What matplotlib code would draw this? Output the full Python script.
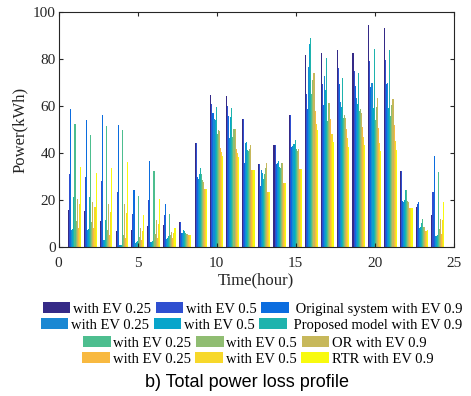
#! /usr/bin/env python3

import numpy as np
import matplotlib
matplotlib.use('Agg')
import matplotlib.pyplot as plt
from matplotlib.patches import Patch

hours = list(range(1, 25))

# power loss (kWh) per hour, 4 methods x 3 EV levels
orig_025 = [16, 15.3, 11, 6.8, 7.2, 9, 9.4, 10.7, 44.3, 64.7, 64.3, 54.5, 35.4, 43.4, 56.2, 81.7, 82.6, 83.8, 82.6, 94.5, 93.2, 32.3, 17, 13.6]
orig_05 = [31, 29.8, 28.2, 23.4, 14, 20, 13.6, 10.7, 44.3, 61, 60, 54.5, 35.4, 43.4, 56.2, 65.1, 69.4, 76.2, 74.9, 79.1, 79.6, 32.3, 18.3, 23.4]
orig_09 = [58.7, 54, 56.3, 52, 24.3, 36.6, 18.3, 6, 29.8, 57, 55.8, 35.7, 26, 35.5, 42.6, 58.7, 60.4, 69.4, 68.5, 68.1, 69.5, 19.6, 19.1, 38.7]
prop_025 = [7.2, 7.2, 3, 0.9, 1.6, 2.1, 3.4, 6, 28.9, 54.5, 46.5, 44.3, 32.9, 36, 43.1, 76.6, 72.8, 61.7, 63.4, 69.8, 70, 19.2, 8.1, 4.7]
prop_05 = [7.7, 7.5, 3, 0.9, 2, 2.1, 3.8, 7.3, 31, 54, 55.4, 44.7, 31.4, 36.6, 43.7, 86.4, 66.8, 59.6, 60.9, 59.1, 59.2, 20, 8.5, 4.7]
prop_09 = [21.3, 21.3, 11.5, 0.9, 2.7, 2.6, 4.7, 7, 33.6, 59.6, 59.3, 41.3, 29, 34, 45.4, 88.9, 80.4, 71.9, 74, 84.3, 83.9, 24.3, 10.2, 5.3]
or_025 = [52.3, 47.8, 51.5, 49.8, 21.7, 32.3, 14, 6, 31, 48.1, 47, 40.9, 31.2, 33.8, 41.7, 65.1, 53.6, 54.9, 57.9, 54, 55.8, 24.3, 11.9, 32]
or_05 = [11, 10.5, 7.2, 5.1, 4.3, 5.5, 5.1, 5.5, 28.4, 49.8, 50.4, 41.7, 33.5, 35.7, 40.9, 71.1, 61.3, 56.2, 58.7, 59.6, 60.3, 19.6, 8.5, 7.7]
or_09 = [20.6, 19.2, 18.3, 18.3, 8, 11.5, 6.4, 5.5, 27.9, 49.4, 50.4, 43.4, 35.6, 35.7, 41.7, 74, 61.3, 54.9, 57, 63.4, 63, 19.1, 8.5, 11.9]
rtr_025 = [8, 8, 5.1, 3.8, 3, 3.8, 3.8, 5.1, 24.7, 42.1, 41.8, 32.8, 23.6, 27.3, 33.2, 57.9, 54.5, 50.2, 51.1, 50.6, 52, 16.6, 6.8, 5.5]
rtr_05 = [18.3, 17, 14.9, 14.5, 7, 9.8, 6, 5.1, 24.7, 40.4, 40.1, 32.8, 23.6, 27.3, 33.2, 52.3, 48.1, 46.4, 46.8, 44.3, 45.1, 16.6, 6.8, 11.5]
rtr_09 = [34, 31.6, 33.6, 36.3, 13.6, 20.4, 8, 5.1, 24.7, 38.7, 38.4, 32.8, 23.6, 27.3, 33.2, 49.8, 44.7, 42.6, 43.4, 40.9, 41.3, 16.6, 7.2, 19.1]

series = [orig_025, orig_05, orig_09, prop_025, prop_05, prop_09,
          or_025, or_05, or_09, rtr_025, rtr_05, rtr_09]

legend_rows = [
    ["with EV 0.25", "with EV 0.5", " Original system with EV 0.9"],
    ["with EV 0.25", "with EV 0.5", " Proposed model with EV 0.9"],
    ["with EV 0.25", "with EV 0.5", "OR with EV 0.9"],
    ["with EV 0.25", "with EV 0.5", "RTR with EV 0.9"],
]

# parula-like colours
colours = ['#352a87', '#2f4fd0', '#0b6ddf', '#1a88d3', '#08a5cb', '#1eb3ad',
           '#4dbe8f', '#90bd72', '#c7b85b', '#f8b940', '#f7d82a', '#f8fa0e']

serif = 'Liberation Serif'

fig = plt.figure(figsize=(4.71, 3.96), dpi=100)
ax = fig.add_axes([0.1246, 0.376, 0.8384, 0.5934])

n = len(series)
w = 0.8 / n
x = np.array(hours, dtype=float)
for i in range(n):
    ax.bar(x + (i - (n - 1) / 2) * w, series[i], width=w * 1.05,
           color=colours[i], linewidth=0)

ax.set_xlim(0, 25)
ax.set_ylim(0, 100)
ax.set_xticks([0, 5, 10, 15, 20, 25])
ax.set_yticks([0, 20, 40, 60, 80, 100])
for s in ax.spines.values():
    s.set_color('#262626')
    s.set_linewidth(0.8)
ax.tick_params(direction='in', length=3, width=0.8, color='#262626',
               top=True, right=True, labelsize=11)
ax.tick_params(axis='x', pad=7)
ax.tick_params(axis='y', pad=2)
for lab in ax.get_xticklabels() + ax.get_yticklabels():
    lab.set_fontfamily(serif)
    lab.set_color('#262626')

ax.set_xlabel('Time(hour)', fontsize=12, fontfamily=serif, color='#262626', labelpad=2)
ax.set_ylabel('Power(kWh)', fontsize=12, fontfamily=serif, color='#262626', labelpad=4)

row_y = [0.2197, 0.179, 0.134, 0.0934]
row_x = [0.536, 0.534, 0.541, 0.547]
for r in range(4):
    handles = [Patch(facecolor=colours[r * 3 + k], edgecolor='none') for k in range(3)]
    leg = fig.legend(handles, legend_rows[r], ncol=3, loc='center',
                     bbox_to_anchor=(row_x[r], row_y[r]), frameon=False,
                     prop={'family': serif, 'size': 10.5},
                     handlelength=1.9, handleheight=0.8, handletextpad=0.2,
                     columnspacing=0.3, borderpad=0, borderaxespad=0)

fig.text(0.524, 0.035, 'b) Total power loss profile', ha='center', va='center',
         fontsize=13, fontfamily='Liberation Sans')

fig.savefig('out.png', dpi=100)
